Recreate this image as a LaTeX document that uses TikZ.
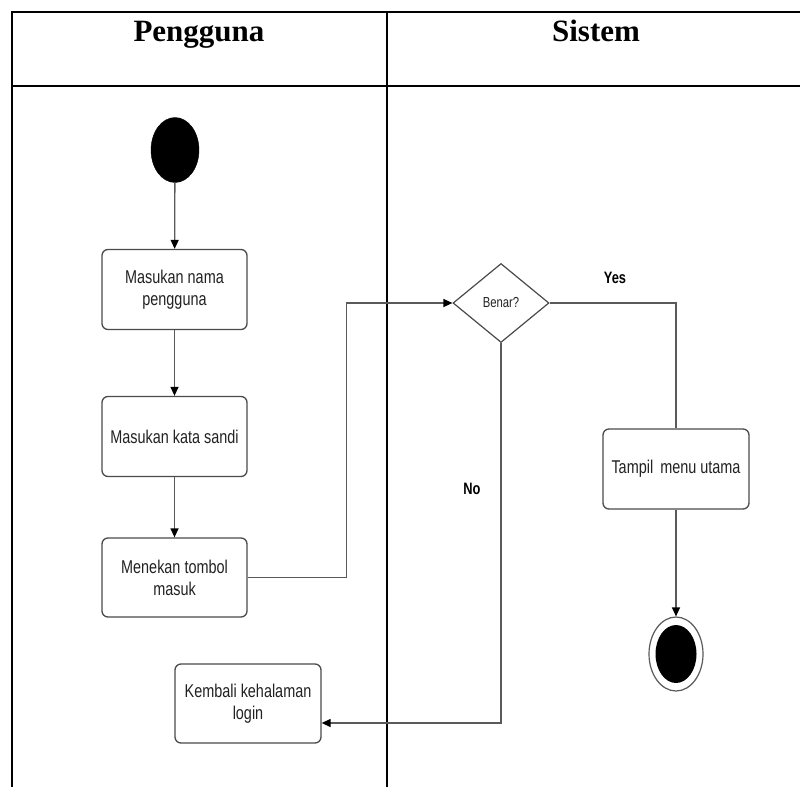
\documentclass[tikz,border=0pt]{standalone}
\usepackage{fontspec}
\setmainfont{Liberation Serif}
\newfontfamily\actfont[FakeStretch=0.78]{Liberation Sans}
\usetikzlibrary{shapes.geometric,arrows.meta}

\definecolor{edgegray}{HTML}{4A4A4A}
\definecolor{flowgray}{HTML}{5A5A5A}
\definecolor{textgray}{HTML}{222222}

\tikzset{
  lane/.style={line width=1.4pt, black},
  headrule/.style={line width=2.4pt, black},
  headtext/.style={font=\fontsize{31}{36}\selectfont\bfseries, anchor=base, inner sep=0pt},
  actbox/.style={draw=edgegray, line width=1.3pt, rounded corners=6pt, fill=white,
    minimum width=145pt, minimum height=80pt, align=center, inner sep=2pt, text=textgray,
    font=\actfont\fontsize{18.5}{22}\selectfont},
  decision/.style={diamond, draw=edgegray, line width=1.2pt, fill=white, inner sep=0pt, text=textgray,
    minimum width=96pt, minimum height=79pt, font=\actfont\fontsize{14.5}{17}\selectfont},
  startdot/.style={ellipse, fill=black, draw=black, minimum width=48pt, minimum height=65pt, inner sep=0pt},
  endring/.style={ellipse, draw=flowgray, line width=1.2pt, fill=white, minimum width=54pt, minimum height=74pt, inner sep=0pt},
  enddot/.style={ellipse, fill=black, minimum width=41pt, minimum height=58pt, inner sep=0pt},
  flow/.style={draw=flowgray, line width=1.3pt, -{Triangle[length=9pt,width=8pt,fill=black,color=black]}},
  plainflow/.style={draw=flowgray, line width=1.3pt},
  guard/.style={font=\actfont\fontsize{16.5}{19}\selectfont\bfseries, inner sep=0pt}
}

\begin{document}
\begin{tikzpicture}[x=1pt, y=-1pt]
  \useasboundingbox (0,0) rectangle (800,787);

  % swimlane frame
  \draw[lane] (12,12) -- (12,787);
  \draw[lane] (387,12) -- (387,787);
  \draw[headrule] (11,12) -- (800,12);
  \draw[headrule] (11,86) -- (800,86);
  \node[headtext] (hpengguna) at (199,41) {Pengguna};
  \node[headtext] (hsistem) at (596,41) {Sistem};

  % activities
  \node[startdot] (start) at (175,150) {};
  \node[actbox] (b1) at (174.5,289.5) {Masukan nama\\pengguna};
  \node[actbox] (b2) at (174.5,436.5) {Masukan kata sandi};
  \node[actbox, minimum height=79pt] (b3) at (174.5,577.5) {Menekan tombol\\masuk};
  \node[actbox, minimum height=79pt, minimum width=146pt] (b4) at (248,703.5) {Kembali kehalaman\\login};
  \node[decision] (dec) at (501,303) {Benar?};
  \node[actbox, minimum width=146pt] (b5) at (676,469) {Tampil\, menu utama};
  \node[endring] (endr) at (676,654) {};
  \node[enddot] (endd) at (676,654) {};

  % guard labels
  \node[guard] (yes) at (615,278) {Yes};
  \node[guard] (no) at (472,489) {No};

  % control flow
  \draw[flow] (start) -- (b1);
  \draw[flow] (b1) -- (b2);
  \draw[flow] (b2) -- (b3);
  \draw[flow] (b3.east) -- ++(98.5,0) |- (dec.west);
  \draw[plainflow] (dec.east) -| (b5.north);
  \draw[flow] (b5.south) -- (endr.north);
  \coordinate (noturn) at (501,723);
  \draw[flow] (dec.south) -- (noturn) -- (noturn -| b4.east);
\end{tikzpicture}
\end{document}
